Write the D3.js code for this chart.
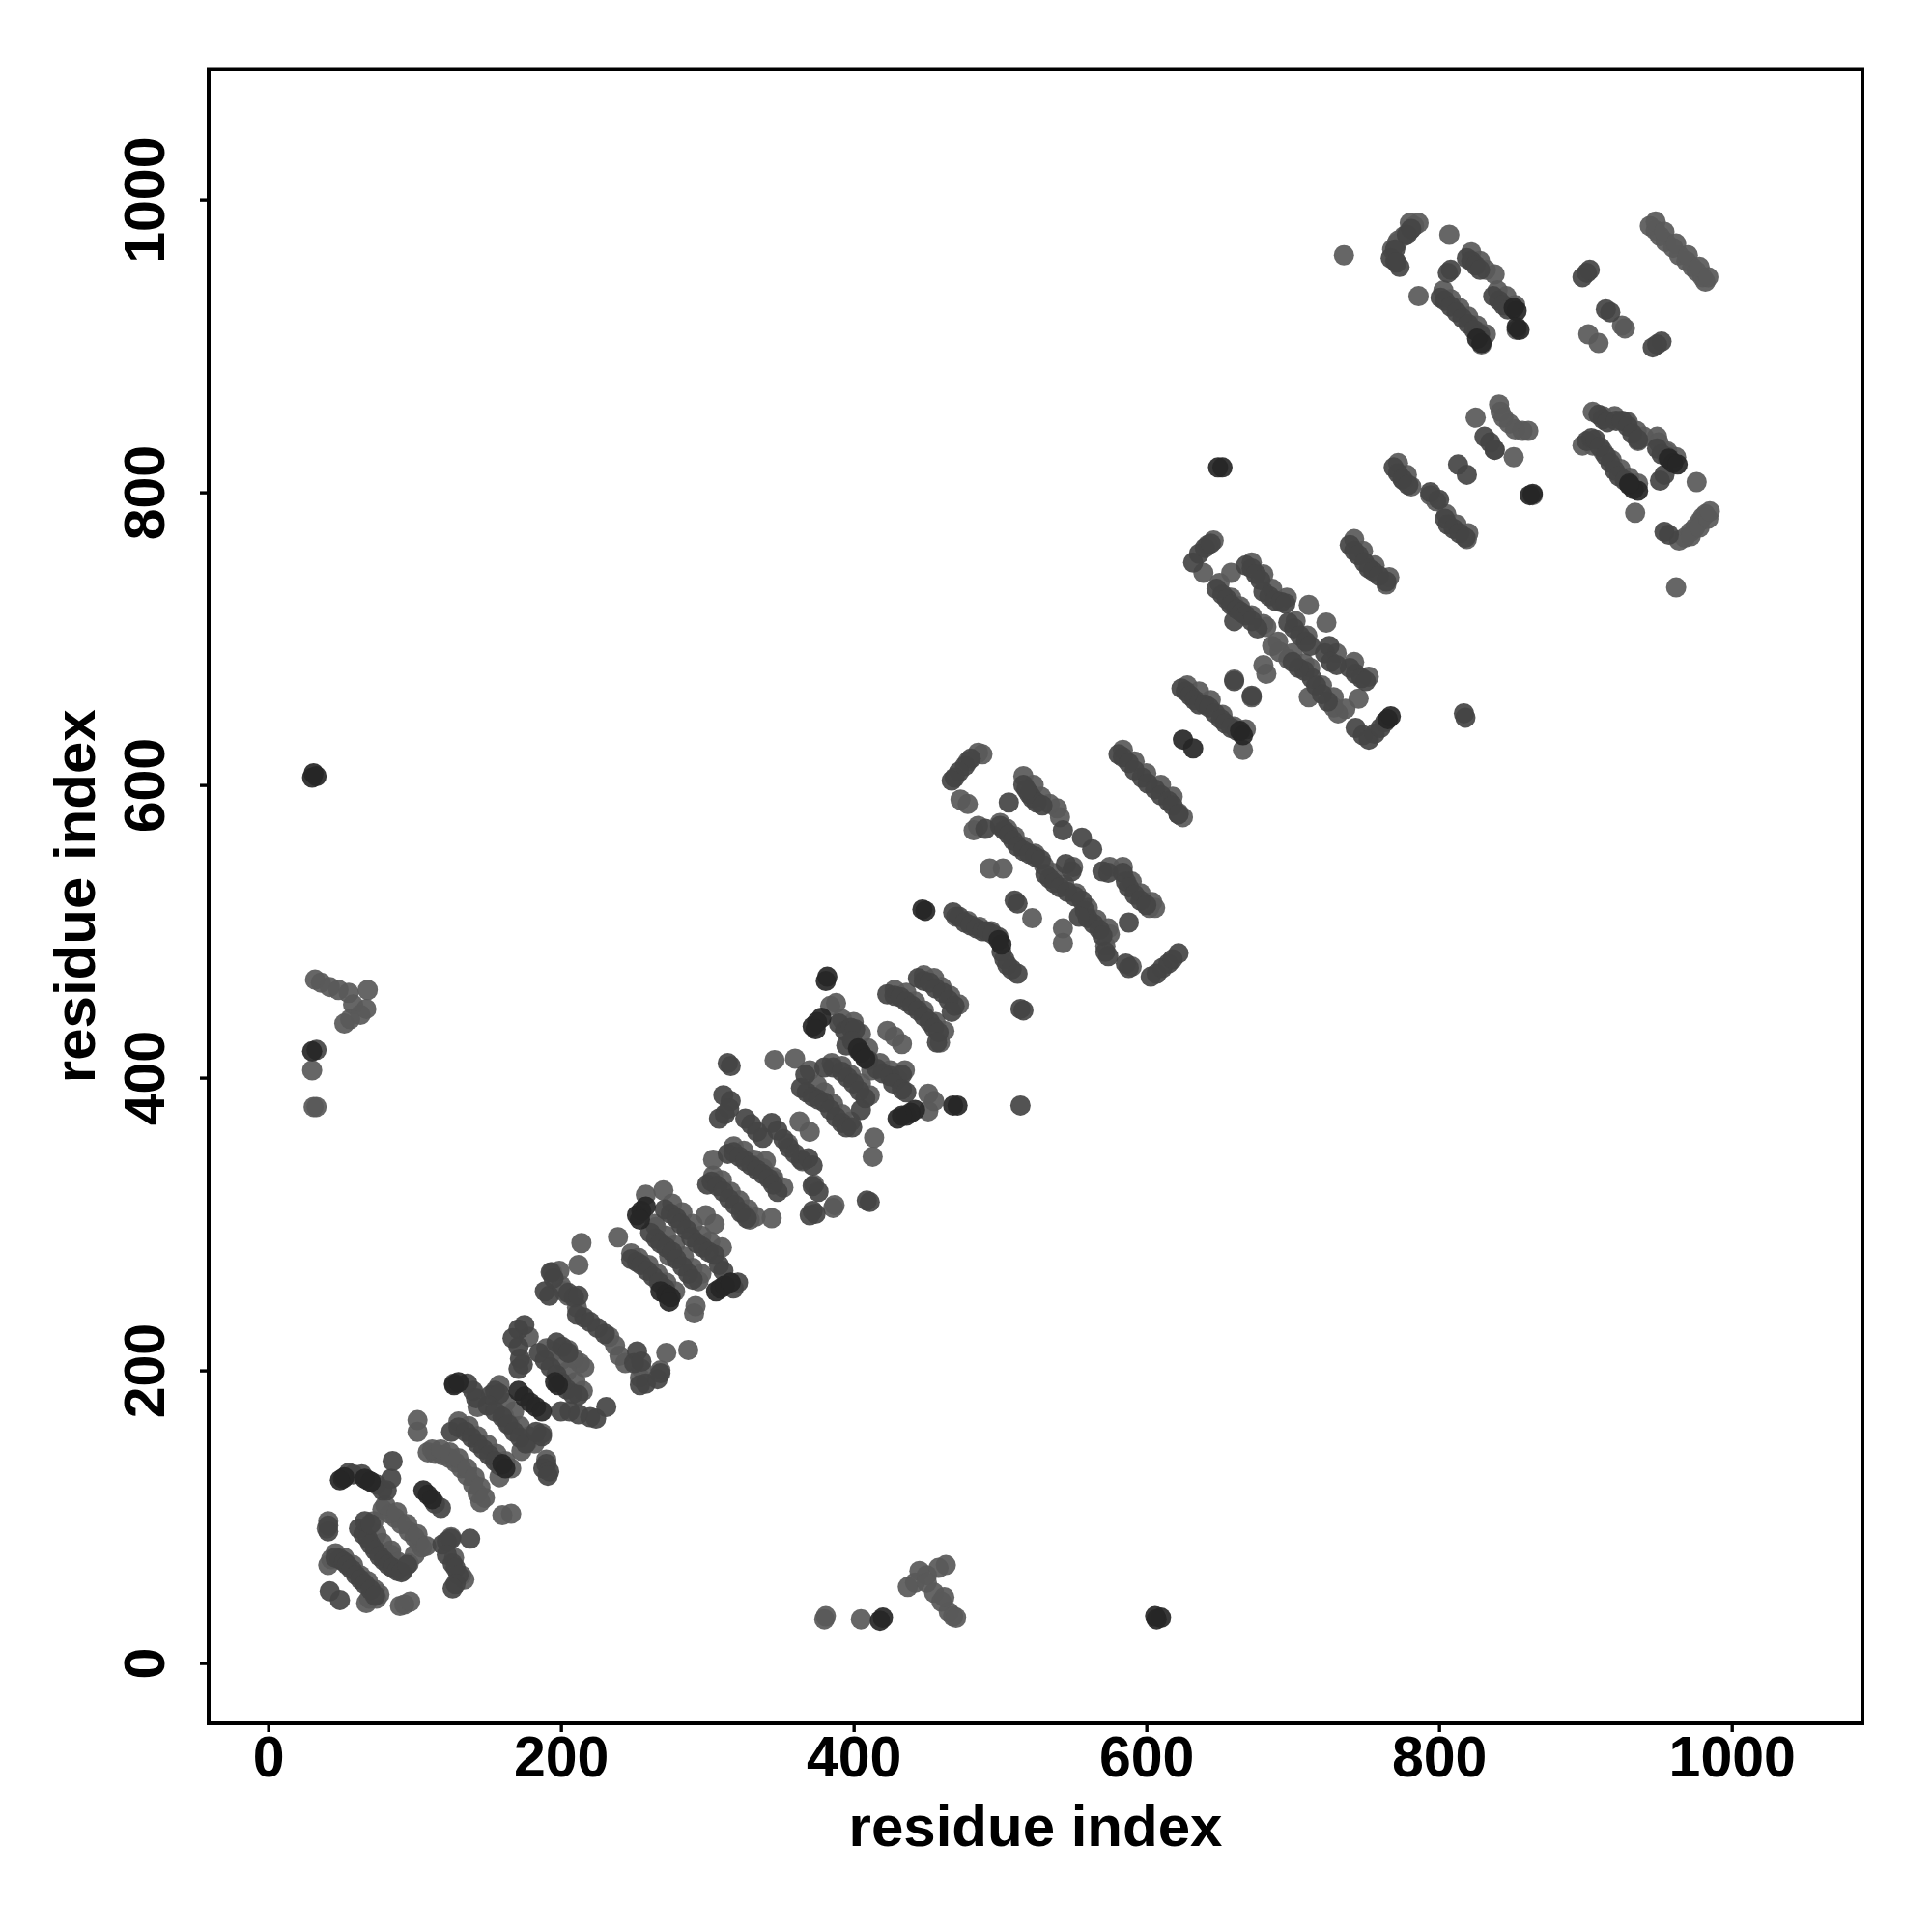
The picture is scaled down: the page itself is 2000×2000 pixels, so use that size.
<!DOCTYPE html>
<html><head><meta charset="utf-8"><title>Residue contact map</title>
<script src="https://cdn.jsdelivr.net/npm/d3@7"></script>
<style>html,body{margin:0;background:#fff}svg{display:block}</style></head>
<body><svg id="c" width="2000" height="2000"></svg>
<script>
const tickLabels = [0,200,400,600,800,1000];
const axisTitle = "residue index";

// Contacts, grouped by how dark the dot is.
const strongContacts = [
[171,186],[175,182],[179,178],[183,175],[187,172],[106,118],[109,115],[112,112],[66,126],[70,124],
[162,133],[160,136],[252,306],[255,309],[258,312],[254,303],[268,254],[272,252],[275,250],[274,247],
[306,254],[309,256],[312,258],[316,260],[625,631],[632,625],[666,634],[664,637],[501,491],[499,494],
[372,435],[375,438],[378,441],[374,433],[382,469],[381,466],[405,417],[403,420],[408,413],[436,374],
[439,376],[442,378],[447,515],[449,514],[853,924],[851,926],[933,802],[930,805],[936,801],[960,820],
[957,823],[963,819],[649,817],[652,817],[862,798],[864,799],[30,605],[31,608],[33,606],[196,192],
[198,190],[127,190],[130,192],[52,127],[49,125],[430,372],[433,374],[765,645],[767,647],[30,418],
[468,381],[471,381],[418,29],[420,31],[607,30],[610,31],[606,32],[855,911],[853,913],[930,806],[829,902],[826,905]
];
const middleContacts = [
[42,49],[49,43],[46,72],[49,71],[52,69],[54,67],[57,64],[60,60],[63,57],[66,54],[70,50],[73,46],
[62,92],[65,88],[68,85],[70,81],[73,77],[76,73],[79,70],[82,67],[85,65],[88,63],[91,62],[95,67],
[66,97],[70,95],[119,81],[122,83],[125,85],[138,85],[122,74],[126,68],[128,65],[130,60],[128,54],[126,51],
[58,129],[64,129],[68,125],[74,122],[78,118],[81,118],[84,126],[85,138],[51,126],[55,130],[41,90],[41,94],
[118,106],[114,109],[125,158],[130,161],[135,158],[139,154],[143,150],[147,146],[151,142],[155,138],[158,135],
[152,183],[155,186],[158,184],[150,176],[155,172],[160,168],[164,163],[168,158],[172,154],[176,150],[187,155],
[183,158],[190,136],[188,133],[192,131],[191,128],[127,191],[136,191],[140,186],[142,181],[171,228],[175,231],
[167,222],[171,216],[172,208],[171,201],[174,204],[185,212],[189,207],[193,202],[197,197],[200,192],[204,187],
[208,184],[212,183],[200,172],[206,172],[212,170],[220,168],[224,167],[231,175],[197,219],[201,216],[205,212],
[189,254],[192,251],[195,263],[193,267],[205,253],[209,250],[212,251],[211,238],[216,236],[220,233],[225,229],
[230,225],[250,205],[252,213],[255,206],[254,190],[258,191],[266,194],[268,198],[248,276],[252,274],[255,272],
[259,268],[263,264],[267,260],[271,256],[261,294],[265,290],[268,287],[272,284],[276,281],[279,276],[283,271],
[287,266],[290,262],[271,310],[275,307],[279,304],[282,300],[286,296],[289,291],[293,287],[297,284],[301,281],
[305,279],[308,272],[311,268],[321,260],[318,256],[300,327],[303,329],[307,326],[311,322],[315,317],[319,313],
[323,308],[327,304],[314,348],[318,349],[322,346],[326,343],[330,340],[334,337],[338,334],[342,331],[345,327],
[348,322],[311,388],[316,384],[308,372],[312,375],[315,379],[316,408],[314,410],[326,372],[330,368],[334,363],
[338,359],[344,369],[348,364],[352,358],[356,352],[360,348],[364,344],[369,345],[372,340],[372,326],[376,322],
[372,309],[374,307],[370,306],[409,316],[411,315],[380,407],[386,407],[392,404],[396,400],[400,396],[404,391],
[408,386],[405,378],[367,402],[364,393],[368,390],[372,387],[376,385],[380,383],[384,378],[388,373],[392,369],
[395,366],[399,366],[390,437],[394,432],[398,434],[401,433],[395,422],[399,425],[403,419],[410,412],[416,406],
[420,403],[425,401],[433,402],[427,396],[433,392],[436,390],[423,457],[428,456],[432,455],[436,452],[440,449],
[444,446],[448,442],[452,438],[455,434],[458,431],[457,424],[444,468],[448,466],[452,465],[456,461],[461,458],
[465,453],[469,449],[467,445],[480,618],[476,613],[472,609],[469,605],[467,603],
[490,570],[500,572],[503,569],[506,566],[509,562],[512,558],[516,555],[520,553],[524,551],[528,549],[531,539],
[534,536],[537,533],[541,530],[546,527],[551,524],[556,521],[558,514],[560,509],[564,505],[568,501],[570,497],
[572,486],[574,483],[588,475],[586,478],[554,510],[520,594],[522,591],[525,588],[529,586],[516,600],[518,597],
[506,588],[543,569],[556,564],[563,556],[549,541],[545,546],[570,541],[574,540],[584,540],[586,534],[588,530],
[592,525],[596,521],[600,518],[588,506],[510,521],[512,519],[468,513],[472,510],[476,506],[480,504],[484,502],
[488,500],[491,500],[495,498],[499,496],[501,486],[503,481],[505,477],[508,474],[512,471],[514,447],[516,446],
[514,381],[603,469],[607,471],[611,475],[615,478],[618,481],[622,485],[581,621],[584,619],[588,615],[592,610],
[597,605],[601,601],[606,597],[610,593],[615,589],[618,586],[622,580],[624,666],[627,664],[630,661],[633,658],
[636,655],[640,655],[643,653],[647,649],[651,645],[654,642],[658,639],[662,637],[660,671],[672,661],[632,752],
[636,758],[640,762],[644,765],[648,734],[652,730],[655,727],[658,723],[662,720],[665,718],[668,716],[672,712],
[676,707],[660,712],[668,750],[672,748],[675,744],[678,740],[680,732],[684,729],[688,726],[692,725],[695,724],
[697,711],[701,707],[705,702],[709,698],[712,695],[725,695],[722,690],[726,684],[730,682],[739,680],[743,676],
[747,673],[750,671],[716,668],[720,662],[724,657],[713,673],[708,678],[704,680],[700,684],[743,639],[748,634],
[752,631],[756,635],[760,639],[763,643],[817,649],[818,646],[739,764],[742,760],[745,757],[749,752],[752,748],
[755,746],[759,743],[764,739],[769,817],[772,813],[775,809],[779,805],[794,800],[800,795],[804,782],[806,778],
[810,775],[814,772],[818,769],[813,819],[819,812],[831,838],[835,834],[838,829],[909,853],[912,850],[915,848],
[921,849],[925,849],[929,845],[932,840],[936,836],[901,835],[904,837],[907,836],[910,831],[914,825],[917,820],
[920,815],[923,811],[927,808],[949,830],[952,826],[956,824],[951,808],[954,812],[954,773],[957,771],[767,960],
[770,966],[773,954],[771,957],[778,976],[781,980],[819,960],[822,958],[825,955],[828,952],[808,952],[806,950],
[801,933],[804,931],[808,927],[812,923],[816,919],[820,915],[824,911],[828,908],[837,934],[841,931],[844,928],
[847,925],[901,950],[898,947],[903,952],[914,925],[917,923],[949,901],[952,903],[946,899],[33,419]
];
const weakContacts = [
[41,67],[43,71],[67,41],[69,44],[72,47],[74,44],[90,39],[93,40],[97,42],[41,97],[40,92],
[78,105],[83,102],[87,99],[91,95],[96,90],[100,86],[103,82],[105,79],[100,74],[96,68],[92,63],[84,68],[79,74],[84,77],
[125,86],[127,72],[132,60],[134,57],[102,166],[102,158],[109,144],[114,143],[119,142],[124,140],[128,137],[132,133],
[136,128],[140,122],[143,116],[145,110],[160,101],[166,102],[158,127],[161,169],[165,163],[173,145],[177,151],[190,139],
[187,157],[143,175],[178,223],[205,214],[209,208],[213,205],[216,202],[199,268],[194,267],[212,272],[214,287],[200,258],
[202,254],[205,251],[211,243],[233,223],[237,217],[240,210],[244,205],[255,201],[254,195],[268,200],[272,212],[287,214],
[239,291],[258,320],[270,323],[264,300],[274,278],[294,261],[291,239],[292,244],[304,344],[299,306],[305,300],[329,303],[325,307],
[344,304],[340,343],[345,330],[333,340],[365,343],[355,355],[373,327],[387,313],[386,311],[363,370],[370,363],[346,412],[360,413],
[388,451],[384,449],[423,432],[428,428],[433,423],[412,405],[430,399],[451,389],[451,377],[455,384],[414,359],[413,346],
[459,424],[485,622],[488,621],[478,616],[473,590],[478,587],[485,572],[482,569],[500,574],[493,543],[502,543],
[516,606],[539,584],[541,578],[522,509],[543,502],[543,492],[602,516],[606,516],[590,476],[550,544],[575,498],[572,490],
[622,580],[625,578],[646,767],[642,764],[639,745],[658,745],[660,723],[680,682],[682,676],[660,672],[672,660],[711,723],
[723,711],[682,708],[686,695],[691,691],[697,686],[708,683],[731,649],[728,653],[711,660],[745,659],[666,624],[622,581],
[764,737],[776,808],[781,804],[794,798],[798,794],[819,768],[851,824],[825,851],[841,860],[842,855],[844,851],[848,847],
[852,843],[857,842],[861,842],[838,829],[864,798],[929,848],[936,835],[949,838],[955,827],[976,807],[934,786],[964,767],
[968,769],[972,773],[975,776],[978,780],[980,783],[982,785],[962,735],[783,982],[780,979],[776,975],[771,970],[768,966],[735,962],
[807,976],[786,934],[838,949],[829,901],[826,910],[853,911],[909,902],[902,908],[925,914],[927,912],[944,982],[948,979],
[951,975],[955,971],[960,967],[964,962],[969,958],[973,954],[976,951],[980,947],[982,944],
[32,467],[36,465],[42,462],[48,460],[55,458],[58,450],[52,437],[56,440],[63,443],[68,460],[67,447],[31,380],[33,380],[30,405],
[380,30],[381,32],[405,30],[437,52],[442,55],[445,63],[450,60],[458,65],[463,67],[450,55],[455,48],[460,42],[465,35],[468,32],[470,31],[462,45],
[46,75],[52,72],[58,67],[63,60],[68,56],[73,50],[76,47],[80,108],[88,103],[95,95],[102,88],[108,80],[72,97],[68,92],[74,88],[78,82],[84,74],[89,69],
[112,146],[118,146],[124,144],[130,140],[136,133],[141,127],[145,120],[148,113],[130,165],[137,162],[143,155],[150,149],[156,143],[162,138],[166,133],
[158,190],[162,178],[168,172],[172,162],[178,155],[182,150],[190,215],[195,213],[200,207],[204,199],[210,192],[215,186],
[248,280],[253,277],[260,272],[266,266],[272,260],[278,254],[265,298],[272,292],[278,286],[284,278],[290,270],[296,266],
[276,314],[283,308],[290,300],[296,292],[302,288],[310,284],[304,333],[310,330],[316,322],[322,316],[328,310],[333,305],
[318,353],[325,350],[332,344],[338,338],[345,332],[352,325],[370,405],[375,395],[380,390],[386,382],[392,375],[398,370],
[385,410],[392,408],[398,402],[405,396],[411,388],[392,440],[400,438],[405,430],[410,420],[418,410],[425,405],[435,405],
[428,460],[436,458],[442,452],[448,446],[456,438],[462,432],[448,470],[455,468],[460,462],[466,456],[472,450],
[470,510],[478,507],[486,503],[494,500],[505,570],[510,565],[516,558],[524,553],[530,545],[536,540],[544,532],[552,526],[560,516],[566,508],[574,502],
[523,600],[528,592],[534,587],[575,544],[584,544],[590,534],[596,526],[604,520],[584,624],[592,616],[600,608],[610,600],[618,592],
[628,668],[636,664],[644,658],[652,648],[660,640],[668,638],[650,738],[658,728],[664,722],[672,716],[680,710],[690,698],[700,690],[712,680],[720,668],[728,660],[736,652],
[672,752],[680,744],[686,734],[696,728],[702,712],[710,702],[730,690],[742,684],[752,674],[742,768],[748,760],[756,750],[766,742],
[772,820],[778,812],[805,785],[812,778],[820,772],[905,855],[912,852],[920,852],[928,848],[935,842],[940,838],
[898,832],[905,832],[912,828],[918,822],[924,816],[930,810],[936,806],[950,834],[956,828],[962,824],
[770,958],[772,972],[780,984],[786,984],[803,938],[808,932],[814,926],[820,920],[826,914],[832,908],[840,938],[846,934],[852,928],
[822,964],[828,958],[832,952],[948,985],[954,978],[962,970],[970,962],[978,954],[984,947],[972,770],[978,776],[984,782],[985,787]
];

const width = 2000, height = 2000;
const left = 216, right = 1928, top_ = 71.5, bottom = 1784;
const fontFamily = '"Liberation Sans", Arial, sans-serif';
const svg = d3.select("#c");

const x = d3.scaleLinear().domain([-40.7, 1089.3]).range([left, right]);
const y = d3.scaleLinear().domain([-41.2, 1089.2]).range([bottom, top_]);

const layers = [
  {data: weakContacts, fill: "#595959"},
  {data: middleContacts, fill: "#444444"},
  {data: strongContacts, fill: "#262626"}
];
svg.append("g").selectAll("g").data(layers).join("g")
  .attr("fill", d => d.fill).attr("fill-opacity", 0.92)
  .selectAll("circle").data(d => d.data).join("circle")
  .attr("cx", d => x(d[0])).attr("cy", d => y(d[1])).attr("r", 10.5);

const xAxis = d3.axisBottom(x).tickValues(tickLabels).tickSize(9).tickPadding(12).tickFormat(d3.format("d"));
const yAxis = d3.axisLeft(y).tickValues(tickLabels).tickSize(9).tickPadding(10).tickFormat(d3.format("d"));

const gx = svg.append("g").attr("transform", `translate(0,${bottom})`).call(xAxis);
const gy = svg.append("g").attr("transform", `translate(${left},0)`).call(yAxis);
[gx, gy].forEach(g => {
  g.select(".domain").remove();
  g.selectAll("line").attr("stroke", "#000").attr("stroke-width", 3.4);
  g.selectAll("text").attr("fill", "#000").attr("font-family", fontFamily)
    .attr("font-weight", "bold").attr("font-size", 59);
});
gx.selectAll("text").attr("y", null).attr("dy", null).attr("transform", null)
  .attr("y", 1839 - bottom).attr("text-anchor", "middle");
gy.selectAll("text").attr("x", null).attr("dy", null)
  .attr("text-anchor", "middle")
  .attr("transform", "translate(" + (170 - left) + ",0) rotate(-90)");

svg.append("rect").attr("x", left).attr("y", top_)
  .attr("width", right - left).attr("height", bottom - top_)
  .attr("fill", "none").attr("stroke", "#000").attr("stroke-width", 4);

svg.append("text").text(axisTitle).attr("x", (left + right) / 2).attr("y", 1911)
  .attr("text-anchor", "middle").attr("font-family", fontFamily)
  .attr("font-weight", "bold").attr("font-size", 60);
svg.append("text").text(axisTitle)
  .attr("transform", `translate(98,${(top_ + bottom) / 2}) rotate(-90)`)
  .attr("text-anchor", "middle").attr("font-family", fontFamily)
  .attr("font-weight", "bold").attr("font-size", 60);
</script></body></html>
